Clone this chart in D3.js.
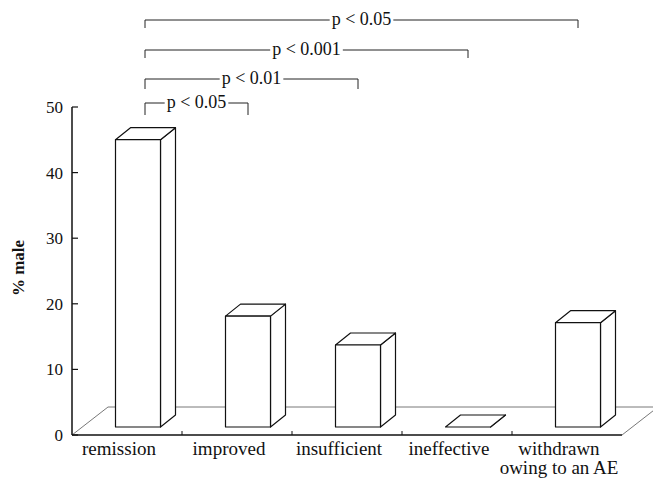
<!DOCTYPE html>
<html>
<head>
<meta charset="utf-8">
<script src="https://cdn.jsdelivr.net/npm/d3@7"></script>
<style>
  body { margin: 0; background: #fff; }
  text { font-family: "Liberation Serif", "Times New Roman", serif; fill: #111; }
</style>
</head>
<body>
<svg id="chart" width="653" height="479"></svg>
<script>
// bar data, % male per outcome group
const categories = ["remission", "improved", "insufficient", "ineffective", "withdrawn|owing to an AE"];
const values = [43.8, 16.9, 12.5, 0, 15.9];
const yTicks = [0, 10, 20, 30, 40, 50];
// significance brackets: from category, to category, label
const bracketFrom = [0, 0, 0, 0];
const bracketTo = [4, 3, 2, 1];
const bracketLabels = ["p < 0.05", "p < 0.001", "p < 0.01", "p < 0.05"];

const svg = d3.select("#chart");
const x = d3.scaleBand().domain(categories).range([72, 622]).padding(0);
const y = d3.scaleLinear().domain([0, 50]).range([435, 107]);

const floorDepth = [36, -28];  // back edge of the floor
const lift = [11, -8];         // bars stand a bit into the floor
const barDepth = [15, -12];
const barW = 45;
const barLeft = c => x(c) + x.bandwidth() / 2 + lift[0] - barW / 2;

// floor
const fx0 = x.range()[0], fx1 = x.range()[1], fy = y(0);
svg.append("path")
  .attr("d", `M${fx0},${fy}L${fx0 + floorDepth[0]},${fy + floorDepth[1]}L${fx1 + floorDepth[0]},${fy + floorDepth[1]}L${fx1},${fy}`)
  .attr("fill", "none").attr("stroke", "#555").attr("stroke-width", 0.8);

// bars
categories.forEach((c, i) => {
  const x0 = barLeft(c), x1 = x0 + barW;
  const yb = y(0) + lift[1], yt = y(values[i]) + lift[1];
  const [dx, dy] = barDepth;
  const g = svg.append("g").attr("fill", "#fff").attr("stroke", "#111")
    .attr("stroke-width", 1.2).attr("stroke-linejoin", "round");
  g.append("path").attr("d", `M${x1},${yt}L${x1 + dx},${yt + dy}L${x1 + dx},${yb + dy}L${x1},${yb}Z`);
  g.append("path").attr("d", `M${x0},${yt}L${x0 + dx},${yt + dy}L${x1 + dx},${yt + dy}L${x1},${yt}Z`);
  if (yb > yt) g.append("rect").attr("x", x0).attr("y", yt).attr("width", barW).attr("height", yb - yt);
});

// x axis (front edge of floor)
svg.append("line").attr("x1", fx0).attr("x2", fx1).attr("y1", fy).attr("y2", fy)
  .attr("stroke", "#111").attr("stroke-width", 1.5);
categories.slice(1).forEach(c => {
  svg.append("line").attr("x1", x(c)).attr("x2", x(c)).attr("y1", fy).attr("y2", fy - 4)
    .attr("stroke", "#111").attr("stroke-width", 1);
});
categories.forEach(c => {
  const t = svg.append("text").attr("text-anchor", "middle").style("font-size", "19px");
  c.split("|").forEach((line, k) => {
    t.append("tspan").attr("x", x(c) + x.bandwidth() / 2 - 8).attr("y", 455 + k * 19).text(line);
  });
});

// y axis
svg.append("line").attr("x1", 72).attr("x2", 72).attr("y1", y(50)).attr("y2", y(0))
  .attr("stroke", "#111").attr("stroke-width", 1.5);
yTicks.forEach(v => {
  svg.append("line").attr("x1", 72).attr("x2", 78).attr("y1", y(v)).attr("y2", y(v))
    .attr("stroke", "#111").attr("stroke-width", 1.2);
  svg.append("text").attr("x", 63).attr("y", y(v) + 6).attr("text-anchor", "end")
    .style("font-size", "17px").text(v);
});
svg.append("text").attr("transform", "translate(24,268) rotate(-90)")
  .attr("text-anchor", "middle").style("font-size", "17px").style("font-weight", "bold")
  .text("% male");

// significance brackets
const bracketY = [20, 50, 79, 103];
const drops = [8, 8, 10, 12];
bracketLabels.forEach((lab, i) => {
  const a = barLeft(categories[bracketFrom[i]]) + barW / 2 + 7;
  const b = barLeft(categories[bracketTo[i]]) + barW / 2;
  const by = bracketY[i];
  const t = svg.append("text").attr("x", (a + b) / 2).attr("y", by + 5)
    .attr("text-anchor", "middle").style("font-size", "18px").text(lab);
  const w = t.node().getComputedTextLength();
  const m0 = (a + b) / 2 - w / 2 - 2, m1 = (a + b) / 2 + w / 2 + 2;
  svg.append("path")
    .attr("d", `M${a},${by + drops[i]}L${a},${by}L${m0},${by}M${m1},${by}L${b},${by}L${b},${by + drops[i]}`)
    .attr("fill", "none").attr("stroke", "#222").attr("stroke-width", 1);
});
</script>
</body>
</html>
